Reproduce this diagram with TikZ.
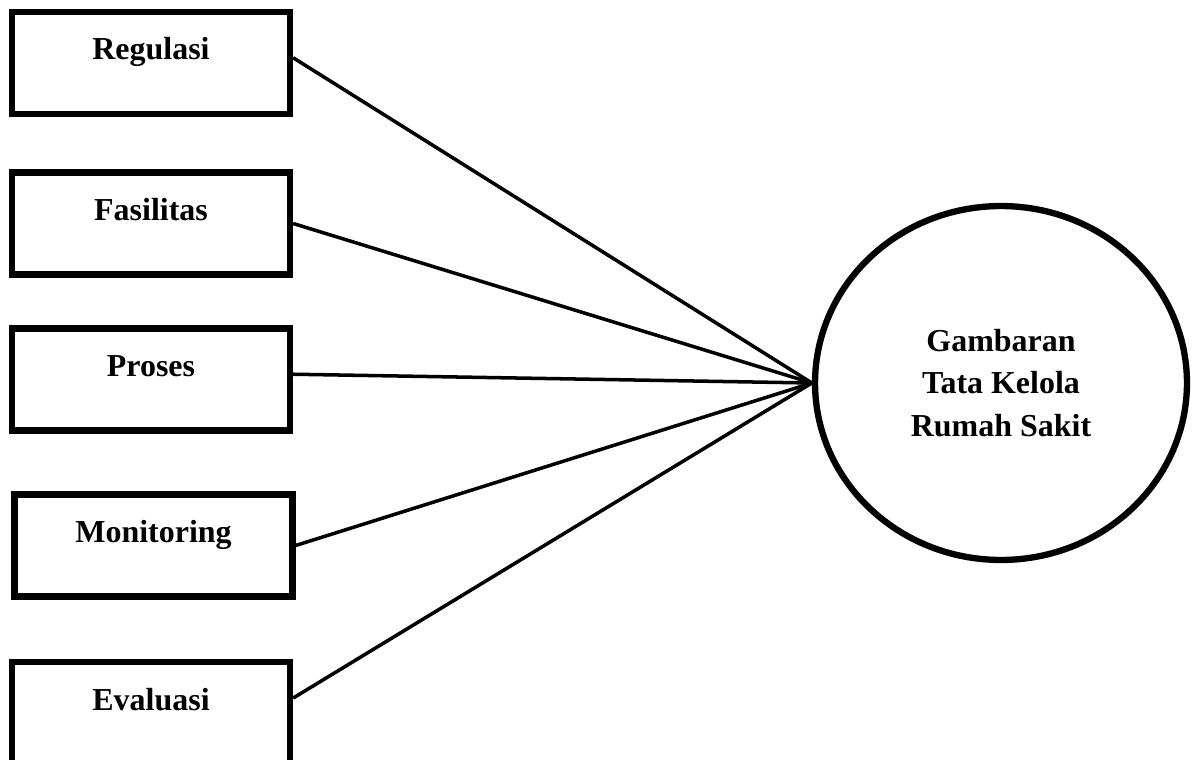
\documentclass[tikz,border=0pt]{standalone}
\usepackage{fontspec}
\setmainfont{Liberation Serif}
\usetikzlibrary{shapes.geometric}
\tikzset{varbox/.style={draw,line width=3.6pt,minimum width=5.56cm,inner sep=0pt,
  text height=0.96cm,text depth=1.08cm,font=\fontsize{18.2}{21}\selectfont\bfseries}}
\tikzset{link/.style={line width=2pt}}

\begin{document}
\begin{tikzpicture}[x=0.02cm,y=-0.02cm]
	\useasboundingbox (0,0) rectangle (1193,760);
	% left column of variables
	\node [varbox] (reg) at (151,63) {Regulasi};
	\node [varbox] (fas) at (151,223.5) {Fasilitas};
	\node [varbox] (pro) at (151,379.5) {Proses};
	\node [varbox] (mon) at (153.5,545.5) {Monitoring};
	\node [varbox] (eva) at (151,713) {Evaluasi};

	\node [draw,ellipse,line width=3.6pt,minimum width=7.44cm,minimum height=7.08cm,inner sep=0pt,align=center,
		font=\fontsize{18.2}{24.4}\selectfont\bfseries] (tata) at (1001,383) {Gambaran\\Tata Kelola\\Rumah Sakit};

	\draw [link] ([yshift=3pt]reg.east) -- (tata.west);
	\draw [link] (fas.east) -- (tata.west);
	\draw [link] ([yshift=3pt]pro.east) -- (tata.west);
	\draw [link] (mon.east) -- (tata.west);
	\draw [link] ([yshift=8.5pt]eva.east) -- (tata.west);
\end{tikzpicture}
\end{document}
